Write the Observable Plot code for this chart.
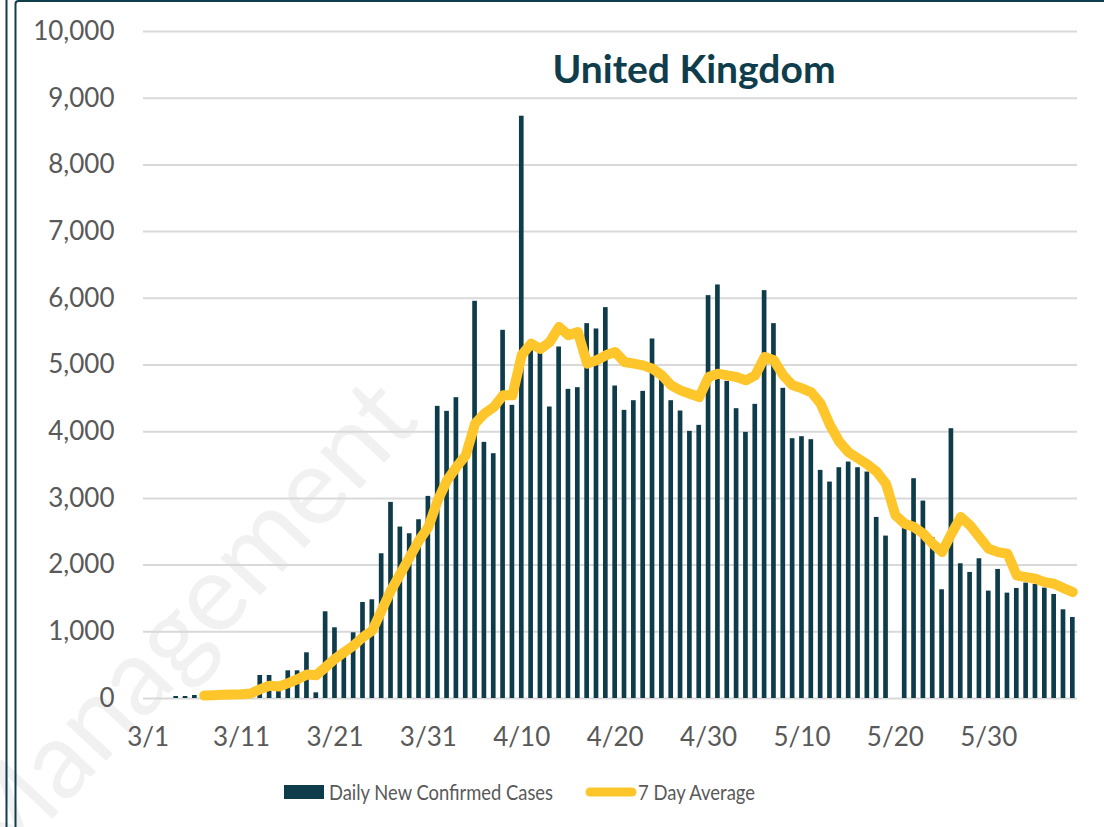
<!DOCTYPE html>
<html>
<head>
<meta charset="utf-8">
<script src="https://cdn.jsdelivr.net/npm/d3@7"></script>
<script src="https://cdn.jsdelivr.net/npm/@observablehq/plot@0.6"></script>
<style>
  body { margin: 0; background: #fff; }
  #wrap { position: relative; width: 1104px; height: 827px; overflow: hidden; font-family: Lato, sans-serif; }
  .layer { position: absolute; left: 0; top: 0; }
</style>
</head>
<body>
<div id="wrap">
  <svg class="layer" id="wm" width="1104" height="827">
    <text x="-3" y="878" transform="rotate(-47 -3 878)" font-family="Lato" font-size="108" fill="#f1f1f1">Management</text>
  </svg>
  <div class="layer" id="chart"></div>
  <svg class="layer" id="overlay" width="1104" height="827"></svg>
</div>
<script>
// ---- data ----
const startDate = new Date(Date.UTC(2020, 2, 1));
const endDate = new Date(Date.UTC(2020, 5, 9));
const dates = d3.utcDay.range(startDate, endDate).map(d => `${d.getUTCMonth() + 1}/${d.getUTCDate()}`);

const dailyCases = [
  0, 0, 0, 30, 30, 45, 50, 60, 55, 60, 70, 80, 345, 345, 200, 415, 415, 685, 85, 1300,
  1060, 660, 985, 1440, 1480, 2170, 2940, 2570, 2470, 2680, 3030,
  4380, 4305, 4510, 3700, 5955, 3840, 3670, 5520, 4395, 8730, 5290, 5200, 4370, 5270, 4635,
  4660, 5620, 5540, 5860, 4685, 4320, 4465, 4605, 5390, 4900, 4465, 4310, 4005, 4095, 6040,
  6200, 4755, 4345, 3990, 4410, 6115, 5620, 4650, 3895, 3925, 3880, 3420, 3245, 3460, 3545,
  3460, 3395, 2715, 2435, null, 2615, 3295, 2960, 2410, 1630, 4045, 2020, 1890, 2095, 1610, 1935,
  1580, 1650, 1730, 1710, 1655, 1560, 1330, 1215
];

const sevenDayAvg = [
  null, null, null, null, null, null, 45, 50, 55, 60, 65, 75, 140, 190, 180, 230, 290, 360, 350, 470,
  595, 695, 795, 920, 1020, 1320, 1620, 1870, 2120, 2370, 2570,
  2970, 3270, 3470, 3645, 4120, 4270, 4370, 4545, 4545, 5150, 5320, 5240, 5345, 5570, 5445,
  5495, 5020, 5070, 5145, 5195, 5045, 5020, 4995, 4945, 4845, 4695, 4620, 4570, 4520, 4820,
  4870, 4845, 4820, 4770, 4845, 5120, 5070, 4845, 4695, 4650, 4590, 4420, 4100, 3850, 3690,
  3600, 3510, 3400, 3220, 2750, 2620, 2570, 2470, 2320, 2195, 2470, 2720, 2595, 2420, 2245, 2195,
  2170, 1845, 1820, 1795, 1745, 1720, 1655, 1595
];

const xTicks = ["3/1", "3/11", "3/21", "3/31", "4/10", "4/20", "4/30", "5/10", "5/20", "5/30"];
const yTicks = [0, 1000, 2000, 3000, 4000, 5000, 6000, 7000, 8000, 9000, 10000];

const titleText = "United Kingdom";
const seriesNames = ["Daily New Confirmed Cases", "7 Day Average"];

const rows = dates.map((date, i) => ({date, cases: dailyCases[i], avg: sevenDayAvg[i]}));

// ---- chart ----
const BAR = "#0e3c4a", LINE = "#ffc62b", GRID = "#d9d9d9", TEXT = "#595959";

const chart = Plot.plot({
  width: 1104,
  height: 760,
  marginLeft: 143,
  marginRight: 27,
  marginTop: 31,
  marginBottom: 62,
  style: {fontFamily: "Lato, sans-serif", fontSize: "26px", color: TEXT, background: "transparent", overflow: "visible"},
  x: {type: "band", domain: dates, paddingInner: 0.5, paddingOuter: 0.25, ticks: xTicks, tickSize: 0, tickPadding: 29, label: null},
  y: {domain: [0, 10000], ticks: yTicks, tickFormat: d3.format(","), tickSize: 0, tickPadding: 29, label: null},
  marks: [
    Plot.ruleY(yTicks, {stroke: GRID, strokeWidth: 2}),
    Plot.barY(rows.filter(d => d.cases != null), {x: "date", y: "cases", fill: BAR}),
    Plot.line(rows, {x: "date", y: "avg", stroke: LINE, strokeWidth: 10, strokeLinejoin: "round", strokeLinecap: "round"})
  ]
});
document.getElementById("chart").appendChild(chart);

// ---- title, legend, frame ----
const ov = d3.select("#overlay");
ov.append("text").attr("x", 694).attr("y", 83).attr("text-anchor", "middle")
  .attr("font-family", "Lato, sans-serif").attr("font-weight", 700).attr("font-size", 39)
  .attr("fill", "#0f3d4c").text(titleText);

ov.append("rect").attr("x", 284).attr("y", 785).attr("width", 40).attr("height", 14).attr("fill", BAR);
ov.append("text").attr("x", 329).attr("y", 799.5).attr("font-family", "Lato, sans-serif").attr("font-size", 21)
  .attr("textLength", 224).attr("lengthAdjust", "spacingAndGlyphs")
  .attr("fill", TEXT).text(seriesNames[0]);
ov.append("line").attr("x1", 590).attr("x2", 632).attr("y1", 792).attr("y2", 792)
  .attr("stroke", LINE).attr("stroke-width", 9).attr("stroke-linecap", "round");
ov.append("text").attr("x", 638).attr("y", 799.5).attr("font-family", "Lato, sans-serif").attr("font-size", 21)
  .attr("textLength", 117).attr("lengthAdjust", "spacingAndGlyphs")
  .attr("fill", TEXT).text(seriesNames[1]);

const FRAME = "#0f3d4c";
ov.append("line").attr("x1", 6.5).attr("x2", 6.5).attr("y1", 0).attr("y2", 827).attr("stroke", FRAME).attr("stroke-width", 2);
ov.append("path").attr("d", "M15.5,827 V4 Q15.5,1 18.5,1 H1104").attr("fill", "none").attr("stroke", FRAME).attr("stroke-width", 2);
</script>
</body>
</html>
